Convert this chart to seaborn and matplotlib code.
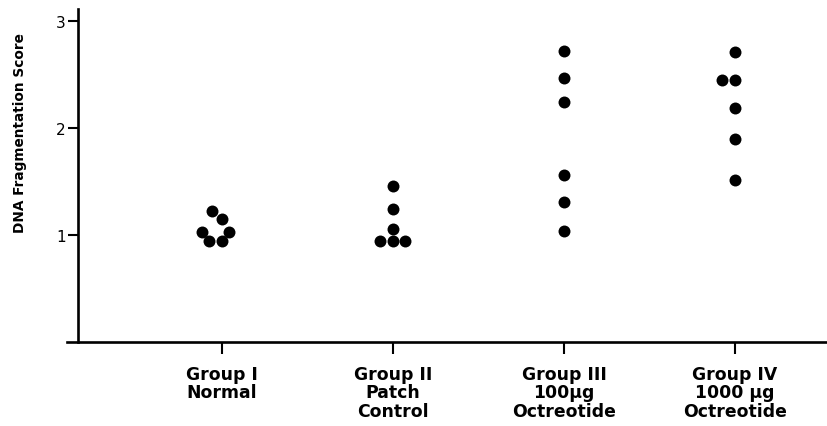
import matplotlib
matplotlib.use("Agg")
import matplotlib.pyplot as plt
import seaborn as sns
import pandas as pd

# DNA fragmentation scores per animal, by treatment group
group_labels = [
    "Group I\nNormal",
    "Group II\nPatch\nControl",
    "Group III\n100\u00b5g\nOctreotide",
    "Group IV\n1000 \u00b5g\nOctreotide",
]
normal = [1.22, 1.15, 1.03, 1.03, 0.94, 0.94]
patch_control = [1.46, 1.24, 1.06, 0.94, 0.94, 0.94]
octreotide_100 = [2.72, 2.47, 2.24, 1.56, 1.31, 1.04]
octreotide_1000 = [2.71, 2.45, 2.45, 2.19, 1.90, 1.51]
y_ticks = [1, 2, 3]

series = [normal, patch_control, octreotide_100, octreotide_1000]
df = pd.DataFrame({
    "group": [lab for lab, vals in zip(group_labels, series) for _ in vals],
    "score": [v for vals in series for v in vals],
})

sns.set_theme(style="ticks")
plt.rcParams["font.family"] = ["DejaVu Sans"]

W, H = 828, 427
fig = plt.figure(figsize=(W / 100, H / 100), dpi=100)
ax = fig.add_axes([67 / W, 1 - 343 / H, (W - 67) / W, (343 - 10) / H])

sns.swarmplot(data=df, x="group", y="score", order=group_labels,
              color="black", size=8.6, linewidth=0, ax=ax)

ax.set_xlim(-0.906, 3.544)
ax.set_ylim(0, 3.11)
ax.set_yticks(y_ticks)
ax.set_yticklabels([str(t) for t in y_ticks], fontsize=12.5)
ax.set_xticks(range(len(group_labels)))
ax.set_xticklabels(group_labels, fontsize=12.4, fontweight="bold",
                   linespacing=1.02)
ax.set_xlabel("")
ax.set_ylabel("DNA Fragmentation Score", fontsize=9.8, fontweight="bold",
              color="black")
ax.yaxis.set_label_coords(-0.052, 0.63)

for side in ("top", "right"):
    ax.spines[side].set_visible(False)
ax.spines["left"].set_position(("data", -0.842))
for side in ("left", "bottom"):
    ax.spines[side].set_linewidth(1.9)
    ax.spines[side].set_color("black")

ax.tick_params(axis="y", direction="out", length=7.2, width=1.5,
               pad=1.5, colors="black")
ax.tick_params(axis="x", direction="out", length=8.6, width=1.5,
               pad=8, colors="black")

fig.savefig("out.png", dpi=100, facecolor="white")
